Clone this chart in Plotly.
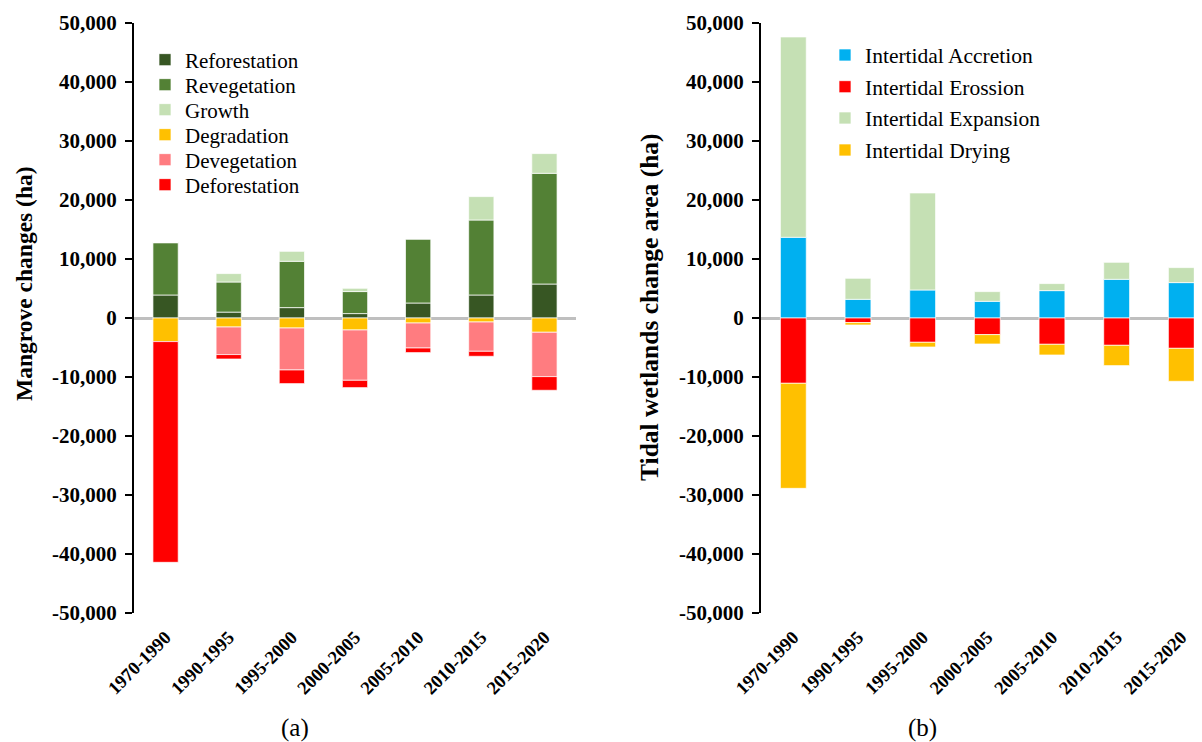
import plotly.graph_objects as go

periods = ["1970-1990", "1990-1995", "1995-2000", "2000-2005", "2005-2010", "2010-2015", "2015-2020"]

# Panel (a): mangrove changes (ha)
reforestation = [3900, 1000, 1760, 750, 2540, 3900, 5760]
revegetation = [8880, 5100, 7850, 3730, 10850, 12710, 18765]
growth = [0, 1425, 1690, 555, 0, 3965, 3340]
degradation = [-4000, -1525, -1695, -2030, -850, -680, -2420]
devegetation = [0, -4675, -7115, -8530, -4235, -4965, -7515]
deforestation = [-37410, -750, -2310, -1240, -780, -845, -2315]

# Panel (b): tidal wetlands change area (ha)
accretion = [13680, 3170, 4750, 2830, 4640, 6560, 6000]
erosion = [-11070, -780, -4120, -2815, -4460, -4630, -5140]
expansion = [33950, 3560, 16440, 1640, 1190, 2880, 2540]
drying = [-17800, -405, -795, -1590, -1810, -3440, -5590]

y_ticks = [50000, 40000, 30000, 20000, 10000, 0, -10000, -20000, -30000, -40000, -50000]
y_ticktext = [f"{v:,}" for v in y_ticks]

FONT = "Liberation Serif"
OFF = 8                      # page body margin of the html page
W, H = 1202 - OFF, 742 - OFF
TOP, BOT = 23 - OFF, 613 - OFF   # plot area rows in figure pixels
PH = BOT - TOP


def fx(px):
    """screen pixel column -> paper x"""
    return (px - OFF) / W


def fy(py):
    """screen pixel row -> paper y (paper spans the plot area)"""
    return (BOT - (py - OFF)) / PH


left_series = [
    ("Reforestation", reforestation, "#375623"),
    ("Revegetation", revegetation, "#538135"),
    ("Growth", growth, "#C5E0B4"),
    ("Degradation", degradation, "#FFC000"),
    ("Devegetation", devegetation, "#FF7C80"),
    ("Deforestation", deforestation, "#FF0000"),
]
right_series = [
    ("Intertidal Accretion", accretion, "#00B0F0"),
    ("Intertidal Erossion", erosion, "#FF0000"),
    ("Intertidal Expansion", expansion, "#C5E0B4"),
    ("Intertidal Drying", drying, "#FFC000"),
]
left_legend_rows = [60, 85, 110, 135, 160, 185]
right_legend_rows = [55, 86.7, 118, 150]

fig = go.Figure()
legends = {}
n = 0
for (name, vals, col), row in zip(left_series, left_legend_rows):
    n += 1
    key = "legend" if n == 1 else f"legend{n}"
    fig.add_trace(go.Bar(
        x=periods, y=vals, name=name, showlegend=True,
        marker=dict(color=col, line=dict(color="rgba(255,255,255,0.7)", width=1)),
        width=0.4, xaxis="x", yaxis="y", legend=key))
    legends[key] = dict(x=fx(145), y=fy(row), xanchor="left", yanchor="middle",
                        font=dict(family=FONT, size=21, color="black"),
                        bgcolor="rgba(0,0,0,0)", itemwidth=30, visible=True)
for (name, vals, col), row in zip(right_series, right_legend_rows):
    n += 1
    key = f"legend{n}"
    fig.add_trace(go.Bar(
        x=periods, y=vals, name=name, showlegend=True,
        marker=dict(color=col, line=dict(color="rgba(255,255,255,0.7)", width=1)),
        width=0.4, xaxis="x2", yaxis="y2", legend=key))
    legends[key] = dict(x=fx(825), y=fy(row), xanchor="left", yanchor="middle",
                        font=dict(family=FONT, size=21.5, color="black"),
                        bgcolor="rgba(0,0,0,0)", itemwidth=30, visible=True)

yaxis_common = dict(
    range=[-50000, 50000], tickvals=y_ticks, ticktext=y_ticktext, showgrid=False, automargin=False,
    showline=True, linecolor="black", linewidth=2, ticks="outside", ticklen=7, tickwidth=2,
    tickcolor="black", zeroline=True, zerolinecolor="#bfbfbf", zerolinewidth=2.5,
    ticklabelstandoff=4,
    tickfont=dict(family=FONT, size=21, color="black", weight="bold"),
)
xaxis_common = dict(
    showline=False, showgrid=False, ticks="", tickangle=-45, automargin=False,
    ticklabelstandoff=9,
    tickfont=dict(family=FONT, size=18.5, color="black", weight="bold"),
)

fig.update_layout(
    width=W, height=H, showlegend=True,
    margin=dict(l=0, r=0, t=TOP, b=H - BOT, autoexpand=False),
    paper_bgcolor="white", plot_bgcolor="white",
    barmode="relative", bargap=0.6,
    xaxis=dict(domain=[fx(134), fx(576)], range=[-0.5, 6.5], anchor="y", **xaxis_common),
    yaxis=dict(anchor="x", **yaxis_common),
    xaxis2=dict(domain=[fx(761), 1.0], range=[-0.5, 6.32], anchor="y2", **xaxis_common),
    yaxis2=dict(anchor="x2", **yaxis_common),
    annotations=[
        dict(text="Mangrove changes (ha)", textangle=-90, x=fx(24), y=fy(284),
             xref="paper", yref="paper", showarrow=False, xanchor="center", yanchor="middle",
             font=dict(family=FONT, size=23.5, color="black", weight="bold")),
        dict(text="Tidal wetlands change area (ha)", textangle=-90, x=fx(649), y=fy(307),
             xref="paper", yref="paper", showarrow=False, xanchor="center", yanchor="middle",
             font=dict(family=FONT, size=25.5, color="black", weight="bold")),
        dict(text="(a)", x=fx(295), y=fy(728), xref="paper", yref="paper", showarrow=False,
             xanchor="center", yanchor="middle", font=dict(family=FONT, size=25, color="black")),
        dict(text="(b)", x=fx(922), y=fy(728), xref="paper", yref="paper", showarrow=False,
             xanchor="center", yanchor="middle", font=dict(family=FONT, size=25, color="black")),
    ],
    **legends,
)

fig.write_html("out.html")
